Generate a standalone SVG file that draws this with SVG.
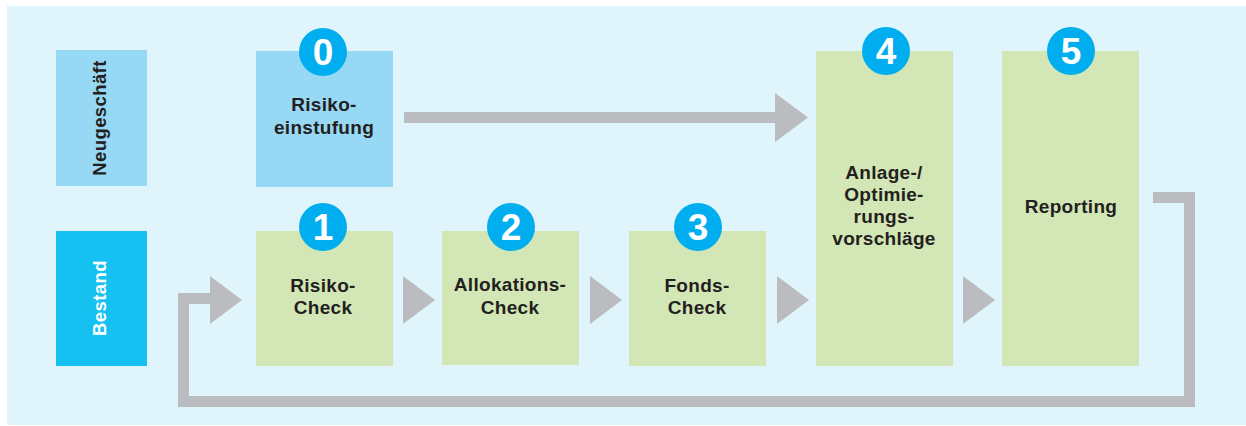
<svg xmlns="http://www.w3.org/2000/svg" width="1246" height="426" viewBox="0 0 1246 426">
  <style>
    .lbl { font-family: "Liberation Sans", Arial, sans-serif; font-weight: bold; font-size: 19px; fill: #231f20; text-anchor: middle; letter-spacing: 0.3px; }
    .row { font-family: "Liberation Sans", Arial, sans-serif; font-weight: bold; font-size: 18.5px; text-anchor: middle; letter-spacing: 0.4px; }
    .num { font-family: "Liberation Sans", Arial, sans-serif; font-weight: bold; font-size: 37px; fill: #ffffff; text-anchor: middle; }
    .badge { fill: #00aeef; }
    .new { fill: #97d8f5; }
    .step { fill: #d3e6b5; }
    .head { fill: #bbbcc0; }
    .shaft { fill: none; stroke: #bbbcc0; stroke-width: 11; stroke-linejoin: miter; }
  </style>

  <!-- backdrop -->
  <rect x="7" y="6" width="1239" height="419" fill="#e0f4fb"/>

  <!-- row headers -->
  <g id="row-neugeschaeft">
    <rect x="56" y="50" width="91" height="136" class="new"/>
    <text class="row" fill="#231f20" transform="translate(106,118) rotate(-90)">Neugeschäft</text>
  </g>
  <g id="row-bestand">
    <rect x="56" y="231" width="91" height="135" fill="#15c1f1"/>
    <text class="row" fill="#ffffff" transform="translate(106,298) rotate(-90)">Bestand</text>
  </g>

  <!-- connectors -->
  <g id="connectors">
    <!-- Risikoeinstufung to step 4 -->
    <rect x="404" y="112" width="372" height="11" class="head"/>
    <polygon points="775,93 808,117.5 775,142" class="head"/>
    <!-- chevrons along the Bestand row -->
    <polygon points="403,276 435,300 403,324" class="head"/>
    <polygon points="590,276 622,300 590,324" class="head"/>
    <polygon points="777,276 809,300 777,324" class="head"/>
    <polygon points="963,276 995,300 963,324" class="head"/>
    <!-- loop back from Reporting to Risiko-Check -->
    <path d="M1153,197.5 H1189.5 V401.5 H183.5 V298.5 H212" class="shaft"/>
    <polygon points="210,276 242,300 210,324" class="head"/>
  </g>

  <!-- step 0 -->
  <g id="step-0">
    <rect x="256" y="51" width="137" height="136" class="new"/>
    <circle cx="323" cy="52" r="24" class="badge"/>
    <text class="num" x="323" y="65">0</text>
    <text class="lbl" x="324" y="111">Risiko-</text>
    <text class="lbl" x="324" y="134">einstufung</text>
  </g>

  <!-- step 1 -->
  <g id="step-1">
    <rect x="256" y="231" width="137" height="135" class="step"/>
    <circle cx="323" cy="227" r="24" class="badge"/>
    <text class="num" x="323" y="240">1</text>
    <text class="lbl" x="323" y="292">Risiko-</text>
    <text class="lbl" x="323" y="314">Check</text>
  </g>

  <!-- step 2 -->
  <g id="step-2">
    <rect x="442" y="231" width="137" height="134" class="step"/>
    <circle cx="511" cy="227" r="24" class="badge"/>
    <text class="num" x="511" y="240">2</text>
    <text class="lbl" x="510" y="291">Allokations-</text>
    <text class="lbl" x="510" y="314">Check</text>
  </g>

  <!-- step 3 -->
  <g id="step-3">
    <rect x="629" y="231" width="137" height="135" class="step"/>
    <circle cx="698" cy="227" r="24" class="badge"/>
    <text class="num" x="698" y="240">3</text>
    <text class="lbl" x="697" y="292">Fonds-</text>
    <text class="lbl" x="697" y="314">Check</text>
  </g>

  <!-- step 4 -->
  <g id="step-4">
    <rect x="816" y="51" width="137" height="315" class="step"/>
    <circle cx="886" cy="51" r="24" class="badge"/>
    <text class="num" x="886" y="64">4</text>
    <text class="lbl" x="884" y="179">Anlage-/</text>
    <text class="lbl" x="884" y="201">Optimie-</text>
    <text class="lbl" x="884" y="223">rungs-</text>
    <text class="lbl" x="884" y="245">vorschläge</text>
  </g>

  <!-- step 5 -->
  <g id="step-5">
    <rect x="1002" y="51" width="137" height="315" class="step"/>
    <circle cx="1071" cy="51" r="24" class="badge"/>
    <text class="num" x="1071" y="64">5</text>
    <text class="lbl" x="1071" y="213">Reporting</text>
  </g>
</svg>
